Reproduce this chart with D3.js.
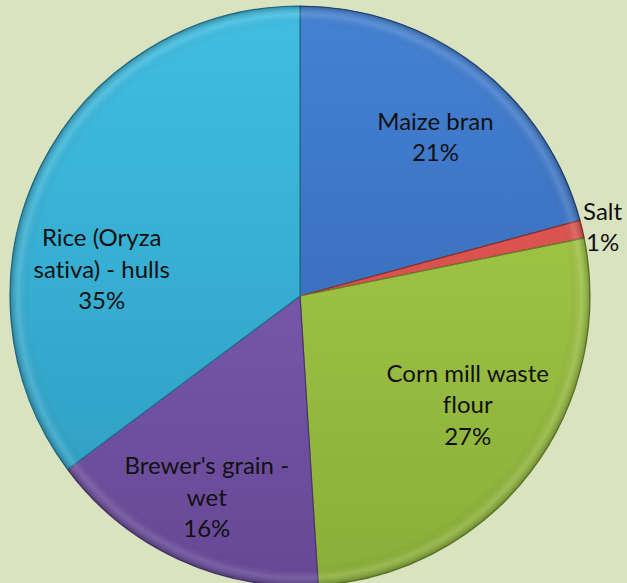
<!DOCTYPE html>
<html>
<head>
<meta charset="utf-8">
<script src="https://cdn.jsdelivr.net/npm/d3@7"></script>
<style>
  html, body { margin: 0; padding: 0; background: #dae3bf; }
  svg { display: block; }
  text { font-variant-ligatures: none; }
</style>
</head>
<body>
<div id="chart"></div>
<script>
// chart data
var categories = ["Maize bran", "Salt", "Corn mill waste flour", "Brewer's grain - wet", "Rice (Oryza sativa) - hulls"];
var values = [20.8, 1.0, 27.2, 15.8, 35.2];

// slice colours (light top / dark bottom)
var lightColors = ["#4482d4", "#e8625e", "#abd04c", "#8664b9", "#40bee2"];
var darkColors  = ["#3260aa", "#c53e3a", "#8aae38", "#664896", "#2c9bbf"];

// label placement: angle shift from slice middle (deg) and radius fraction
var labelShift = [3, 0.5, -4.4, 0, -19];
var labelRadius = [0.72, 1.07, 0.69, 0.765, 0.69];

var width = 627, height = 583;
var cx = 300, cy = 296, radius = 290;
var lineH = 31.5;
var wrapWidth = 185;

var svg = d3.select("#chart").append("svg")
  .attr("width", width)
  .attr("height", height);

svg.append("rect").attr("width", width).attr("height", height).attr("fill", "#dae3bf");

var defs = svg.append("defs");

categories.forEach(function(c, i) {
  var lg = defs.append("linearGradient")
    .attr("id", "grad" + i)
    .attr("gradientUnits", "userSpaceOnUse")
    .attr("x1", 0).attr("y1", -radius)
    .attr("x2", 0).attr("y2", radius);
  lg.append("stop").attr("offset", "0%").attr("stop-color", lightColors[i]);
  lg.append("stop").attr("offset", "100%").attr("stop-color", darkColors[i]);
});

// edge shading (bevel look)
var edge = defs.append("radialGradient")
  .attr("id", "edgeShade")
  .attr("gradientUnits", "userSpaceOnUse")
  .attr("cx", 0).attr("cy", 0).attr("r", radius);
edge.append("stop").attr("offset", "0%").attr("stop-color", "#000").attr("stop-opacity", 0);
edge.append("stop").attr("offset", "93%").attr("stop-color", "#000").attr("stop-opacity", 0);
edge.append("stop").attr("offset", "97%").attr("stop-color", "#fff").attr("stop-opacity", 0.12);
edge.append("stop").attr("offset", "100%").attr("stop-color", "#000").attr("stop-opacity", 0.25);

var pie = d3.pie().sort(null).value(function(d) { return d; });
var arcs = pie(values);
var total = d3.sum(values);

var arc = d3.arc().innerRadius(0).outerRadius(radius);

var g = svg.append("g").attr("transform", "translate(" + cx + "," + cy + ")");

g.selectAll("path.slice")
  .data(arcs)
  .enter().append("path")
  .attr("class", "slice")
  .attr("d", arc)
  .attr("fill", function(d, i) { return "url(#grad" + i + ")"; })
  .attr("stroke", function(d, i) { return d3.color(darkColors[i]).darker(0.9); })
  .attr("stroke-width", 1.2)
  .attr("stroke-linejoin", "round");

g.selectAll("path.shade")
  .data(arcs)
  .enter().append("path")
  .attr("class", "shade")
  .attr("d", arc)
  .attr("fill", "url(#edgeShade)")
  .attr("pointer-events", "none");

// wrap label text
var measure = svg.append("text")
  .style("font-family", "Lato, 'Open Sans', sans-serif")
  .style("font-size", "24px");

function wrap(text) {
  var words = text.split(" ");
  var lines = [];
  var line = "";
  words.forEach(function(w) {
    var test = line ? line + " " + w : w;
    measure.text(test);
    if (line && measure.node().getComputedTextLength() > wrapWidth) {
      lines.push(line);
      line = w;
    } else {
      line = test;
    }
  });
  lines.push(line);
  return lines;
}

var labels = g.selectAll("text.label")
  .data(arcs)
  .enter().append("text")
  .attr("class", "label")
  .attr("text-anchor", "middle")
  .style("font-family", "Lato, 'Open Sans', sans-serif")
  .style("font-size", "24px")
  .style("fill", "#111");

labels.each(function(d, i) {
  var mid = (d.startAngle + d.endAngle) / 2 + labelShift[i] * Math.PI / 180;
  var r = radius * labelRadius[i];
  var x = Math.sin(mid) * r;
  var y = -Math.cos(mid) * r;
  var lines = wrap(categories[i]);
  lines.push(Math.round(d.value / total * 100) + "%");
  var top = y - (lines.length - 1) * lineH / 2;
  var t = d3.select(this);
  lines.forEach(function(l, k) {
    t.append("tspan")
      .attr("x", x)
      .attr("y", top + k * lineH)
      .attr("dy", "0.35em")
      .text(l);
  });
});

measure.remove();
</script>
</body>
</html>
